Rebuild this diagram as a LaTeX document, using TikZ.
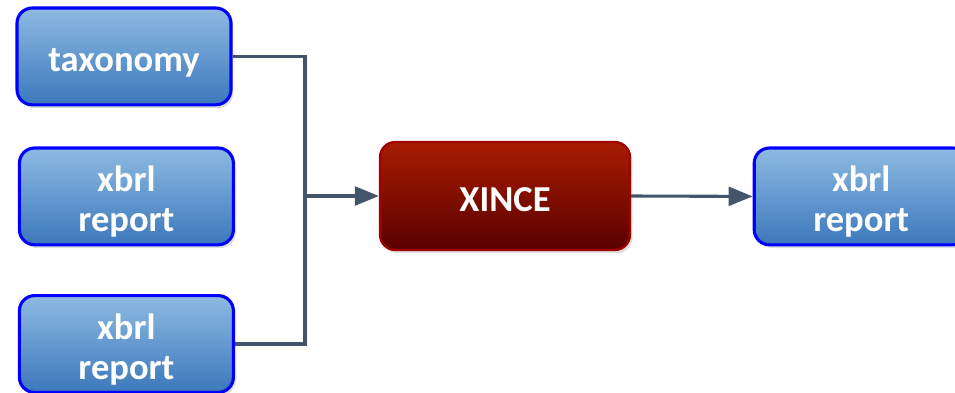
\documentclass[tikz,border=0pt]{standalone}
\usepackage{fontspec}
\setmainfont{Carlito}
\usepackage{tikz}
\usetikzlibrary{arrows.meta, positioning, shadows}
\definecolor{boxtop}{HTML}{8DBAE2}
\definecolor{boxbot}{HTML}{3C78BC}
\definecolor{redtop}{HTML}{A81C00}
\definecolor{redbot}{HTML}{5A0000}
\definecolor{redline}{HTML}{A30000}
\definecolor{linkgray}{HTML}{44546A}

% extra room above the first line, pushes the label down a bit
\newcommand{\topgap}{\rule{0pt}{0.9cm}}

\tikzset{
  docbox/.style={rectangle, rounded corners=0.38cm, draw=blue, line width=2.2pt,
    top color=boxtop, bottom color=boxbot, text=white, align=center,
    minimum width=5.35cm, minimum height=2.42cm, font=\fontsize{26}{28.5}\selectfont\bfseries,
    drop shadow={opacity=0.25, shadow xshift=0.06cm, shadow yshift=-0.08cm}},
  toolbox/.style={docbox, draw=redline, line width=1.6pt, top color=redtop, bottom color=redbot,
    minimum width=6.25cm, minimum height=2.7cm},
  link/.style={draw=linkgray, line width=2.2pt},
  flow/.style={link, -{Triangle[length=0.6cm, width=0.47cm]}}
}

\begin{document}
\begin{tikzpicture}
  \useasboundingbox (0,0) rectangle (23.875,-9.8);

  % inputs on the left
  \node[docbox] (tax) at (3.1,-1.41) {\topgap taxonomy};
  \node[docbox] (rep1) at (3.16,-4.91) {\topgap xbrl\\report};
  \node[docbox] (rep2) at (3.16,-8.6) {\topgap xbrl\\report};

  % tool and output
  \node[toolbox] (xince) at (12.625,-4.9) {\rule{0pt}{0.78cm}XINCE};
  \node[docbox] (out) at (21.53,-4.91) {\topgap xbrl\\report};

  % connectors
  \coordinate (jn) at (7.625,-4.9);
  \draw[link] (tax.east) -| (jn) |- (rep2.east);
  \draw[flow] (jn) -- (xince.west);
  \draw[flow] (xince.east) -- (out.west);
\end{tikzpicture}
\end{document}
